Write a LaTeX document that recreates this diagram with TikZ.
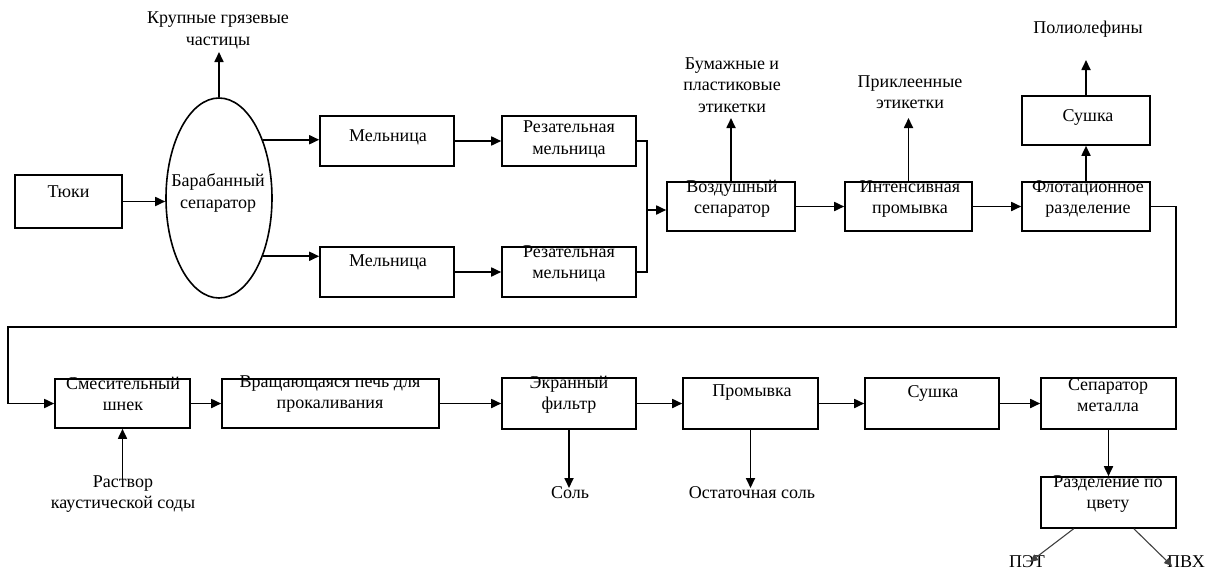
\documentclass[tikz,border=0pt]{standalone}
\usepackage{fontspec}
\setmainfont{Liberation Serif}
\usetikzlibrary{arrows.meta,shapes.geometric}
\begin{document}
\begin{tikzpicture}[x=1pt,y=-1pt,
  box/.style={draw, line width=1.6pt, inner sep=0pt},
  txt/.style={font=\fontsize{18}{21.5}\selectfont, align=center, inner sep=0pt},
  arr/.style={line width=1.7pt, -{Triangle[length=10pt,width=9pt]}},
  ln/.style={line width=1.7pt},
  thinarr/.style={line width=1.1pt, draw=black!75, -{Triangle[length=8pt,width=7pt]}}
]
\useasboundingbox (0,0) rectangle (1210,573);
% boxes
\node[box, minimum width=107pt, minimum height=53pt] (tyuki) at (68.5,201.5) {};
\node[box, ellipse, minimum width=106pt, minimum height=200pt] (sep) at (219,198) {};
\node[box, minimum width=134pt, minimum height=50pt] (mel1) at (387,141) {};
\node[box, minimum width=134pt, minimum height=50pt] (rez1) at (569,141) {};
\node[box, minimum width=134pt, minimum height=50pt] (mel2) at (387,272) {};
\node[box, minimum width=134pt, minimum height=50pt] (rez2) at (569,272) {};
\node[box, minimum width=128pt, minimum height=49pt] (voz) at (731,206.5) {};
\node[box, minimum width=127pt, minimum height=49pt] (int) at (908.5,206.5) {};
\node[box, minimum width=128pt, minimum height=49pt] (flot) at (1086,206.5) {};
\node[box, minimum width=128pt, minimum height=49pt] (dry1) at (1086,120.5) {};
\node[box, minimum width=135pt, minimum height=49pt] (mix) at (122.5,403.5) {};
\node[box, minimum width=217pt, minimum height=49pt] (kiln) at (330.5,403.5) {};
\node[box, minimum width=134pt, minimum height=51pt] (scr) at (569,403.5) {};
\node[box, minimum width=135pt, minimum height=51pt] (wash) at (750.5,403.5) {};
\node[box, minimum width=134pt, minimum height=51pt] (dry2) at (932,403.5) {};
\node[box, minimum width=135pt, minimum height=51pt] (met) at (1108.5,403.5) {};
\node[box, minimum width=135pt, minimum height=51pt] (col) at (1108.5,502.5) {};
% texts in boxes
\node[txt] (tyukiT) at (68.5,192) {Тюки};
\node[txt] (sepT) at (218,193) {Барабанный\\сепаратор};
\node[txt] (mel1T) at (388,137) {Мельница};
\node[txt] (rez1T) at (569,139.5) {Резательная\\мельница};
\node[txt] (mel2T) at (388,262) {Мельница};
\node[txt] (rez2T) at (569,264) {Резательная\\мельница};
\node[txt] (vozT) at (732,199) {Воздушный\\сепаратор};
\node[txt] (intT) at (910,199) {Интенсивная\\промывка};
\node[txt] (flotT) at (1088,199) {Флотационное\\разделение};
\node[txt] (dry1T) at (1088,117) {Сушка};
\node[txt] (mixT) at (123,394) {Смесительный\\шнек};
\node[txt] (kilnT) at (330,394) {Вращающаяся печь для\\прокаливания};
\node[txt] (scrT) at (569,394.5) {Экранный\\фильтр};
\node[txt] (washT) at (752,393) {Промывка};
\node[txt] (dry2T) at (933,393) {Сушка};
\node[txt] (metT) at (1108,395) {Сепаратор\\металла};
\node[txt] (colT) at (1108,494) {Разделение по\\цвету};
% outside labels
\node[txt] (krup) at (218,30.5) {Крупные грязевые\\частицы};
\node[txt] (bum) at (732,85) {Бумажные и\\пластиковые\\этикетки};
\node[txt] (prik) at (910,92) {Приклеенные\\этикетки};
\node[txt] (poli) at (1088,29) {Полиолефины};
\node[txt] (rast) at (123,494) {Раствор\\каустической соды};
\node[txt] (sol) at (570,493) {Соль};
\node[txt] (ost) at (752,493) {Остаточная соль};
\node[txt] (pet) at (1027,562) {ПЭТ};
\node[txt] (pvh) at (1186,562) {ПВХ};
% free ends
\coordinate (krupA) at (219,52);
\coordinate (bumA) at (731,118);
\coordinate (prikA) at (908.5,118);
\coordinate (poliA) at (1086,60);
\coordinate (rastA) at (122.5,480);
\coordinate (solA) at (569,488);
\coordinate (ostA) at (750.5,488);
\coordinate (j) at (647,210);
\coordinate (c1) at (1176,327);
\coordinate (c2) at (8,327);
\coordinate (petA) at (1030,562);
\coordinate (pvhA) at (1172,566);
% connectors
\draw[arr] (tyuki.east) -- (tyuki.east -| sep.west);
\draw[arr] (sep.north) -- (krupA);
\draw[arr] (sep.53) -- (sep.53 -| mel1.west);
\draw[arr] (sep.-53) -- (sep.-53 -| mel2.west);
\draw[arr] (mel1.east) -- (rez1.west);
\draw[arr] (mel2.east) -- (rez2.west);
\draw[ln] (rez1.east) -| (j) |- (rez2.east);
\draw[arr] (j) -- (j -| voz.west);
\draw[arr] (voz.north) -- (bumA);
\draw[arr] (voz.east) -- (int.west);
\draw[arr] (int.north) -- (prikA);
\draw[arr] (int.east) -- (flot.west);
\draw[arr] (flot.north) -- (dry1.south);
\draw[arr] (dry1.north) -- (poliA);
\draw[arr] (flot.east) -| (c1) -- (c2) |- (mix.west);
\draw[arr] (rastA) -- (mix.south);
\draw[arr] (mix.east) -- (kiln.west);
\draw[arr] (kiln.east) -- (scr.west);
\draw[arr] (scr.south) -- (solA);
\draw[arr] (scr.east) -- (wash.west);
\draw[arr] (wash.south) -- (ostA);
\draw[arr] (wash.east) -- (dry2.west);
\draw[arr] (dry2.east) -- (met.west);
\draw[arr] (met.south) -- (col.north);
\draw[thinarr] (col.217) -- (petA);
\draw[thinarr] (col.314) -- (pvhA);
\end{tikzpicture}
\end{document}
